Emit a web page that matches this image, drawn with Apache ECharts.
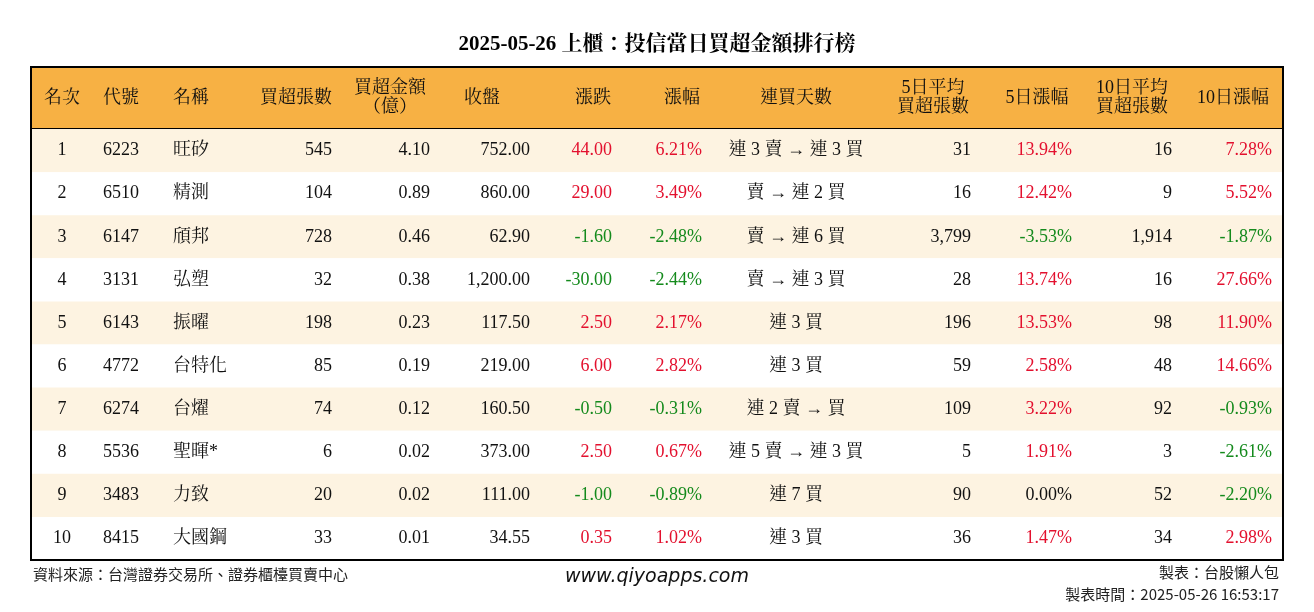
<!DOCTYPE html>
<html><head><meta charset="utf-8">
<script src="https://cdn.jsdelivr.net/npm/echarts@6/dist/echarts.min.js"></script>
<style>html,body{margin:0;background:#fff}#c{width:1314px;height:612px}</style>
</head><body><div id="c"></div>
<script>
const headers = ['名次','代號','名稱','買超張數','買超金額\n（億）','收盤','漲跌','漲幅','連買天數','5日平均\n買超張數','5日漲幅','10日平均\n買超張數','10日漲幅'];
const rank = [1,2,3,4,5,6,7,8,9,10];
const codes = ['6223','6510','6147','3131','6143','4772','6274','5536','3483','8415'];
const names = ['旺矽','精測','頎邦','弘塑','振曜','台特化','台燿','聖暉*','力致','大國鋼'];
const netLots = ['545','104','728','32','198','85','74','6','20','33'];
const netAmount = ['4.10','0.89','0.46','0.38','0.23','0.19','0.12','0.02','0.02','0.01'];
const closePrice = ['752.00','860.00','62.90','1,200.00','117.50','219.00','160.50','373.00','111.00','34.55'];
const change = [44.00,29.00,-1.60,-30.00,2.50,6.00,-0.50,2.50,-1.00,0.35];
const changePct = [6.21,3.49,-2.48,-2.44,2.17,2.82,-0.31,0.67,-0.89,1.02];
const streak = ['連 3 賣 → 連 3 買','賣 → 連 2 買','賣 → 連 6 買','賣 → 連 3 買','連 3 買','連 3 買','連 2 賣 → 買','連 5 賣 → 連 3 買','連 7 買','連 3 買'];
const avg5 = ['31','16','3,799','28','196','59','109','5','90','36'];
const pct5 = [13.94,12.42,-3.53,13.74,13.53,2.58,3.22,1.91,0.00,1.47];
const avg10 = ['16','9','1,914','16','98','48','92','3','52','34'];
const pct10 = [7.28,5.52,-1.87,27.66,11.90,14.66,-0.93,-2.61,-2.20,2.98];

const RED='#E3102E', GREEN='#148A1C', BLK='#111';
const col = v => v>0?RED:(v<0?GREEN:BLK);
const cellPos = [[31,'center'],[72,'left'],[142,'left'],[301,'right'],[399,'right'],[499,'right'],[581,'right'],[671,'right'],[765,'center'],[940,'right'],[1041,'right'],[1141,'right'],[1241,'right']];
const headPos = [[31,'center'],[72,'left'],[142,'left'],[301,'right'],[359,'center'],[469,'right'],[562,'center'],[651,'center'],[765,'center'],[902,'center'],[1006,'center'],[1101,'center'],[1202,'center']];
const HEAD = -1.44;
const FONT = "'Liberation Serif','Noto Serif CJK TC','Noto Sans CJK TC',serif";

function rowCells(i){
  const f=v=>v.toFixed(2), p=v=>v.toFixed(2)+'%';
  return [[String(rank[i]),BLK],[codes[i],BLK],[names[i],BLK],[netLots[i],BLK],[netAmount[i],BLK],[closePrice[i],BLK],
    [f(change[i]),col(change[i])],[p(changePct[i]),col(changePct[i])],[streak[i],BLK],[avg5[i],BLK],[p(pct5[i]),col(pct5[i])],[avg10[i],BLK],[p(pct10[i]),col(pct10[i])]];
}
const data = [-1].concat(rank.map((r,i)=>i));

const chart = echarts.init(document.getElementById('c'));
chart.setOption({
  animation:false,
  title:{text:'2025-05-26 上櫃：投信當日買超金額排行榜',left:'center',top:29,textStyle:{fontFamily:FONT,fontSize:21,fontWeight:'bold',color:'#000'}},
  grid:{left:31,right:31,top:67,bottom:52},
  xAxis:{type:'value',min:0,max:1252,show:false},
  yAxis:{type:'value',min:HEAD,max:10,inverse:true,show:false},
  series:[{
    type:'custom',
    data:data.map(d=>[d]),
    renderItem:(params,api)=>{
      const r=api.value(0);
      const y0 = r<0?HEAD:r, y1 = r<0?0:r+1;
      const p0=api.coord([0,y0]), p1=api.coord([1252,y1]);
      const fill = r<0?'#F7B144':(r%2===0?'#FDF3E1':'#ffffff');
      const children=[{type:'rect',shape:{x:p0[0],y:p0[1],width:p1[0]-p0[0],height:p1[1]-p0[1]},style:{fill}}];
      const cy=(p0[1]+p1[1])/2;
      if(r<0){
        headers.forEach((h,k)=>{
          const x=api.coord([headPos[k][0],0])[0];
          children.push({type:'text',style:{text:h,x,y:cy,align:headPos[k][1],verticalAlign:'middle',fill:'#111',font:"18px "+FONT,lineHeight:19}});
        });
        children.push({type:'line',shape:{x1:p0[0],y1:p1[1],x2:p1[0],y2:p1[1]},style:{stroke:'#000',lineWidth:2}});
      } else {
        rowCells(r).forEach((c,k)=>{
          const x=api.coord([cellPos[k][0],0])[0];
          children.push({type:'text',style:{text:c[0],x,y:cy,align:cellPos[k][1],verticalAlign:'middle',fill:c[1],font:"18px "+FONT}});
        });
      }
      return {type:'group',children};
    }
  },{
    type:'custom',data:[[0]],z:10,
    renderItem:(params,api)=>{
      const p0=api.coord([0,HEAD]),p1=api.coord([1252,10]);
      return {type:'rect',shape:{x:p0[0],y:p0[1],width:p1[0]-p0[0],height:p1[1]-p0[1]},style:{fill:'none',stroke:'#000',lineWidth:2}};
    }
  }],
  graphic:[
    {type:'text',left:33,top:567,style:{text:'資料來源：台灣證券交易所、證券櫃檯買賣中心',font:"15px 'Noto Sans CJK TC'",fill:'#222'}},
    {type:'text',left:'center',top:568,style:{text:'www.qiyoapps.com',font:"italic 19px 'DejaVu Sans'",fill:'#111'}},
    {type:'text',right:35,top:565,style:{text:'製表：台股懶人包',font:"15px 'Noto Sans CJK TC'",fill:'#222',align:'right'}},
    {type:'text',right:35,top:587,style:{text:'製表時間：2025-05-26 16:53:17',font:"15px 'Noto Sans CJK TC'",fill:'#222',align:'right'}}
  ]
});
</script></body></html>
